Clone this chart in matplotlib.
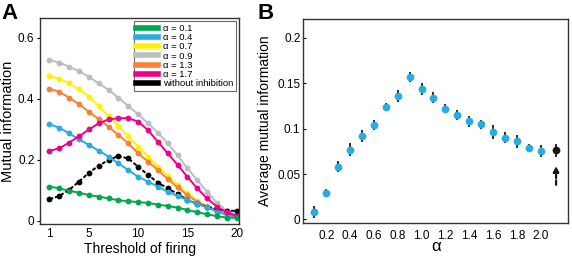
import numpy as np
import matplotlib.pyplot as plt

plt.rcParams['font.family'] = ['Liberation Sans', 'DejaVu Sans']

# -------------------------------
# Panel A data: mutual information vs threshold
# -------------------------------
threshold = np.arange(1, 21)
mi_01 = [0.113, 0.107, 0.099, 0.093, 0.085, 0.080, 0.074, 0.068, 0.065, 0.062,
         0.059, 0.054, 0.049, 0.044, 0.036, 0.029, 0.022, 0.016, 0.011, 0.010]
mi_04 = [0.317, 0.306, 0.287, 0.268, 0.249, 0.231, 0.211, 0.189, 0.167, 0.145,
         0.129, 0.113, 0.096, 0.082, 0.069, 0.056, 0.045, 0.031, 0.020, 0.013]
mi_07 = [0.475, 0.467, 0.451, 0.432, 0.408, 0.377, 0.344, 0.311, 0.277, 0.244,
         0.211, 0.178, 0.148, 0.118, 0.091, 0.067, 0.047, 0.031, 0.021, 0.015]
mi_09 = [0.528, 0.519, 0.506, 0.491, 0.473, 0.451, 0.430, 0.404, 0.377, 0.350,
         0.320, 0.290, 0.255, 0.216, 0.173, 0.134, 0.096, 0.060, 0.033, 0.020]
mi_13 = [0.433, 0.424, 0.404, 0.383, 0.358, 0.334, 0.309, 0.282, 0.255, 0.222,
         0.195, 0.167, 0.138, 0.110, 0.085, 0.063, 0.047, 0.034, 0.024, 0.017]
mi_17 = [0.230, 0.238, 0.257, 0.277, 0.300, 0.320, 0.333, 0.337, 0.337, 0.326,
         0.298, 0.260, 0.222, 0.184, 0.145, 0.107, 0.074, 0.047, 0.028, 0.017]
mi_none = [0.071, 0.082, 0.102, 0.129, 0.158, 0.181, 0.200, 0.213, 0.205, 0.178,
           0.151, 0.126, 0.107, 0.089, 0.069, 0.056, 0.047, 0.039, 0.034, 0.033]

# -------------------------------
# Panel B data: average mutual information vs alpha
# -------------------------------
alpha = [0.1, 0.2, 0.3, 0.4, 0.5, 0.6, 0.7, 0.8, 0.9, 1.0,
         1.1, 1.2, 1.3, 1.4, 1.5, 1.6, 1.7, 1.8, 1.9, 2.0]
avg_mi = [0.008, 0.029, 0.058, 0.077, 0.092, 0.104, 0.124, 0.136, 0.157, 0.144,
          0.134, 0.122, 0.115, 0.108, 0.105, 0.096, 0.090, 0.086, 0.079, 0.075]
avg_err = [0.007, 0.004, 0.006, 0.007, 0.0065, 0.006, 0.0045, 0.007, 0.006, 0.0065,
           0.006, 0.005, 0.006, 0.006, 0.005, 0.0075, 0.006, 0.0068, 0.004, 0.0065]
no_inh_x = 2.13
no_inh_mi = 0.076
no_inh_err = 0.007

fig = plt.figure(figsize=(5.72, 2.59), dpi=100)
axA = fig.add_axes([0.070, 0.135, 0.348, 0.795])
axB = fig.add_axes([0.530, 0.139, 0.463, 0.788])

series = [
    (mi_09, '#bdbdbd', 'α = 0.9', '-'),
    (mi_07, '#fff200', 'α = 0.7', '-'),
    (mi_13, '#f7813a', 'α = 1.3', '-'),
    (mi_none, 'black', 'without inhibition', (0, (2, 1))),
    (mi_04, '#29abe2', 'α = 0.4', '-'),
    (mi_17, '#ec008c', 'α = 1.7', '-'),
    (mi_01, '#00a650', 'α = 0.1', '-'),
]
handles = {}
for vals, col, lab, ls in series:
    axA.plot(threshold, vals, color=col, lw=1.4, ls=ls, marker='o',
             markersize=4.2, markeredgewidth=0)
    handles[lab] = plt.Line2D([], [], color=col, lw=4)

order = ['α = 0.1', 'α = 0.4', 'α = 0.7', 'α = 0.9', 'α = 1.3', 'α = 1.7',
         'without inhibition']
leg = axA.legend([handles[k] for k in order], order, loc='upper right',
                 fontsize=6.8, frameon=True, fancybox=False, handlelength=2.3,
                 handletextpad=0.5, labelspacing=0.02, borderpad=0.3,
                 borderaxespad=0, bbox_to_anchor=(0.985, 0.985))
leg.get_frame().set_edgecolor('#444444')
leg.get_frame().set_linewidth(0.8)

axA.set_xlim(0.05, 20.25)
axA.set_ylim(-0.01, 0.665)
axA.set_xticks([1, 5, 10, 15, 20])
axA.set_yticks([0, 0.2, 0.4, 0.6])
axA.set_yticklabels(['0', '0.2', '0.4', '0.6'])
axA.set_xlabel('Threshold of firing', fontsize=10, labelpad=2)
axA.set_ylabel('Mutual information', fontsize=10.5, labelpad=2)

axB.errorbar(alpha, avg_mi, yerr=avg_err, fmt='o', color='#29abe2',
             markersize=5.6, ecolor='#1a1a1a', elinewidth=1.3, capsize=3.5,
             capthick=1.5, markeredgewidth=0)
axB.errorbar([no_inh_x], [no_inh_mi], yerr=[no_inh_err], fmt='o', color='#1a1a1a',
             markersize=5.6, ecolor='#1a1a1a', elinewidth=1.3, capsize=3.5,
             capthick=1.5, markeredgewidth=0)
axB.annotate('', xy=(no_inh_x, 0.062), xytext=(no_inh_x, 0.035),
             arrowprops=dict(arrowstyle='-|>', color='#1a1a1a', lw=1.6,
                             ls=(0, (2, 1)), mutation_scale=8))
axB.set_xlim(0.005, 2.23)
axB.set_ylim(-0.004, 0.221)
axB.set_xticks([0.2, 0.4, 0.6, 0.8, 1.0, 1.2, 1.4, 1.6, 1.8, 2.0])
axB.set_xticklabels(['0.2', '0.4', '0.6', '0.8', '1.0', '1.2', '1.4', '1.6',
                     '1.8', '2.0'])
axB.set_yticks([0, 0.05, 0.1, 0.15, 0.2])
axB.set_yticklabels(['0', '0.05', '0.1', '0.15', '0.2'])
axB.set_xlabel('α', fontsize=12, labelpad=-2)
axB.set_ylabel('Average mutual information', fontsize=10, labelpad=4)

for ax in (axA, axB):
    ax.tick_params(labelsize=8.5, length=2, width=0.8, pad=2)
    for sp in ax.spines.values():
        sp.set_linewidth(1.0)
        sp.set_color('#333333')
axA.tick_params(axis='x', length=0, pad=2.5)
axB.tick_params(axis='x', length=0, pad=5)
axB.tick_params(axis='y', direction='in')

fig.text(0.003, 0.99, 'A', fontsize=16, fontweight='bold', va='top')
fig.text(0.450, 0.99, 'B', fontsize=16, fontweight='bold', va='top')

fig.savefig('out.png', dpi=100)
